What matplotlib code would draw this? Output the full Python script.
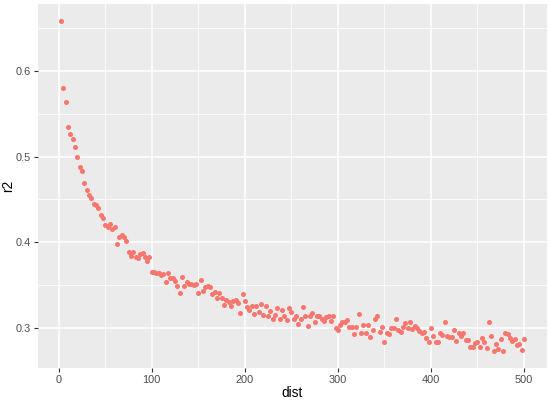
import numpy as np
import matplotlib
matplotlib.use("Agg")
import matplotlib.pyplot as plt
from matplotlib.ticker import MultipleLocator

# distance bins (every 2.5 units) and the r2 value read for each
dist = np.arange(1, 201) * 2.5

r2 = [
    0.659, 0.580, 0.564, 0.534, 0.526, 0.520, 0.511, 0.500, 0.488, 0.483,
    0.469, 0.461, 0.455, 0.451, 0.445, 0.443, 0.440, 0.431, 0.428, 0.420,
    0.418, 0.421, 0.415, 0.417, 0.398, 0.406, 0.408, 0.406, 0.401, 0.388,
    0.384, 0.388, 0.382, 0.381, 0.386, 0.387, 0.383, 0.378, 0.383, 0.365,
    0.365, 0.364, 0.364, 0.361, 0.363, 0.353, 0.364, 0.358, 0.358, 0.354,
    0.349, 0.340, 0.359, 0.349, 0.353, 0.351, 0.351, 0.350, 0.351, 0.340,
    0.355, 0.343, 0.347, 0.348, 0.347, 0.339, 0.342,
    0.335, 0.340, 0.335, 0.326, 0.332, 0.330, 0.325, 0.331, 0.332, 0.329,
    0.317, 0.339, 0.331, 0.324, 0.320, 0.325, 0.316, 0.325, 0.318, 0.327,
    0.315, 0.325, 0.313, 0.319, 0.310, 0.315, 0.323, 0.310, 0.320, 0.314,
    0.309, 0.323, 0.318, 0.310, 0.314, 0.304, 0.310, 0.324, 0.314, 0.302,
    0.313, 0.317, 0.307, 0.313, 0.313, 0.310, 0.308, 0.312, 0.314, 0.308,
    0.313, 0.300, 0.297, 0.303, 0.307, 0.306, 0.309, 0.301, 0.301, 0.292,
    0.301, 0.316, 0.294, 0.303, 0.294, 0.303,
    0.289, 0.297, 0.310, 0.314, 0.295, 0.301, 0.283, 0.294, 0.292, 0.300,
    0.299, 0.310, 0.297, 0.295, 0.301, 0.305, 0.299, 0.307, 0.298, 0.302,
    0.300, 0.296, 0.293, 0.295, 0.288, 0.283, 0.300, 0.290, 0.283, 0.283,
    0.293, 0.291, 0.307, 0.290, 0.289, 0.289, 0.297, 0.284, 0.294, 0.290,
    0.293, 0.285, 0.285, 0.277, 0.277, 0.282, 0.283, 0.277, 0.288, 0.283,
    0.276, 0.307, 0.290, 0.272, 0.281, 0.275, 0.286, 0.273, 0.293, 0.292,
    0.288, 0.284, 0.286, 0.279, 0.281, 0.274, 0.286,
]

plt.rcParams['font.family'] = ['Liberation Sans', 'DejaVu Sans']

fig = plt.figure(figsize=(5.5, 4.01), dpi=100)
ax = fig.add_axes([38 / 550, 33 / 401, 509 / 550, 364 / 401])
ax.set_facecolor('#EBEBEB')

ax.scatter(dist, r2, s=13, color='#F8766D', linewidths=0, zorder=3)

# ggplot-like 5% expansion
xr = max(dist) - min(dist)
yr = max(r2) - min(r2)
ax.set_xlim(min(dist) - 0.05 * xr, max(dist) + 0.05 * xr)
ax.set_ylim(min(r2) - 0.05 * yr, max(r2) + 0.05 * yr)

ax.xaxis.set_major_locator(MultipleLocator(100))
ax.xaxis.set_minor_locator(MultipleLocator(50))
ax.yaxis.set_major_locator(MultipleLocator(0.1))
ax.yaxis.set_minor_locator(MultipleLocator(0.05))
ax.yaxis.set_major_formatter(plt.FuncFormatter(lambda v, p: f'{v:.1f}'))

ax.grid(which='major', color='white', linewidth=1.1, zorder=0)
ax.grid(which='minor', color='white', linewidth=0.55, zorder=0)
ax.set_axisbelow(True)

for s in ax.spines.values():
    s.set_visible(False)

ax.tick_params(which='major', length=3, width=0.8, color='#333333',
               labelcolor='#4D4D4D', labelsize=7.9, pad=2)
ax.tick_params(which='minor', length=0)

ax.set_xlabel('dist', fontsize=9.9, color='black')
ax.set_ylabel('r2', fontsize=9.9, color='black')
ax.xaxis.set_label_coords(0.5, -18 / 364)
ax.yaxis.set_label_coords(-23 / 509, 0.5)

fig.savefig('out.png', dpi=100)
